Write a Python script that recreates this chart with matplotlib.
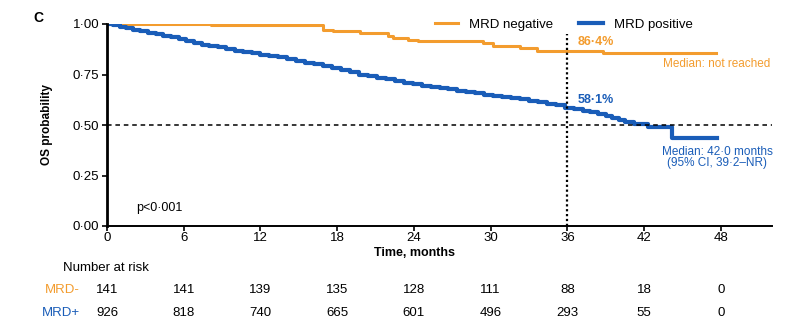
import matplotlib
matplotlib.use("Agg")
import matplotlib.pyplot as plt
from matplotlib import transforms

plt.rcParams['font.family'] = ['Liberation Sans', 'DejaVu Sans']

ORANGE = '#F39C2E'
BLUE = '#1A5DB8'

# Kaplan-Meier steps (time in months, OS probability)
t_neg = [0, 8.1, 14.7, 16.9, 17.7, 19.8, 22.0, 22.4, 23.5, 24.3, 29.4, 30.2, 32.3, 33.6, 38.8, 47.6]
s_neg = [1.0, 0.997, 0.993, 0.972, 0.964, 0.955, 0.94, 0.932, 0.922, 0.914, 0.904, 0.89, 0.88, 0.866, 0.857, 0.857]

t_pos = [0, 0.5, 1.0, 1.5, 2.0, 2.6, 3.2, 3.8, 4.4, 5.0, 5.6, 6.2, 6.8, 7.4, 8.0, 8.7, 9.3, 10.0,
         10.6, 11.3, 12.0, 12.7, 13.4, 14.1, 14.8, 15.5, 16.2, 16.9, 17.6, 18.3, 19.0, 19.7, 20.4,
         21.1, 21.8, 22.5, 23.2, 23.9, 24.6, 25.3, 26.0, 26.7, 27.4, 28.1, 28.8, 29.5, 30.2, 30.9,
         31.6, 32.3, 33.0, 33.7, 34.4, 35.1, 35.8, 36.5, 37.2, 37.8, 38.4, 39.0, 39.5, 40.0, 40.5,
         41.2, 42.3, 44.2, 47.7]
s_pos = [1.0, 0.993, 0.985, 0.978, 0.972, 0.965, 0.955, 0.95, 0.943, 0.935, 0.925, 0.916, 0.908,
         0.897, 0.892, 0.886, 0.874, 0.866, 0.86, 0.855, 0.848, 0.842, 0.835, 0.826, 0.818, 0.807,
         0.8, 0.792, 0.782, 0.772, 0.762, 0.748, 0.742, 0.733, 0.726, 0.72, 0.71, 0.701, 0.695,
         0.69, 0.683, 0.677, 0.67, 0.663, 0.657, 0.65, 0.644, 0.639, 0.633, 0.627, 0.62, 0.612,
         0.605, 0.598, 0.584, 0.578, 0.571, 0.563, 0.556, 0.546, 0.535, 0.524, 0.514, 0.506,
         0.488, 0.437, 0.437]

risk_times = [0, 6, 12, 18, 24, 30, 36, 42, 48]
risk_neg = [141, 141, 139, 135, 128, 111, 88, 18, 0]
risk_pos = [926, 818, 740, 665, 601, 496, 293, 55, 0]

yticks = [0, 0.25, 0.5, 0.75, 1.0]
ytick_labels = ['0·00', '0·25', '0·50', '0·75', '1·00']

fig = plt.figure(figsize=(7.98, 3.25), dpi=100)
ax = fig.add_axes([107 / 798, 1 - 226 / 325, 665 / 798, 202 / 325])

ax.plot(t_neg, s_neg, drawstyle='steps-post', color=ORANGE, lw=2.2, label='MRD negative')
ax.plot(t_pos, s_pos, drawstyle='steps-post', color=BLUE, lw=3.0, label='MRD positive')

ax.axhline(0.5, color='black', lw=1.1, ls=(0, (3, 2.5)))
ax.plot([36, 36], [0, 0.95], color='black', lw=1.6, ls=(0, (1, 1.2)))

ax.set_xlim(0, 52)
ax.set_ylim(0, 1.0)
ax.set_xticks(risk_times)
ax.set_yticks(yticks)
ax.set_yticklabels(ytick_labels)
ax.tick_params(labelsize=9.5, length=3.5, width=1.2)
ax.tick_params(axis='x', pad=1)
ax.tick_params(axis='y', pad=2)
for side in ['top', 'right']:
    ax.spines[side].set_visible(False)
ax.spines['left'].set_linewidth(2.0)
ax.spines['bottom'].set_linewidth(1.4)

ax.legend(loc='center left', bbox_to_anchor=(428 / 798, 1 - 25 / 325), bbox_transform=fig.transFigure,
          ncol=2, frameon=False, fontsize=9.5, handlelength=1.8, columnspacing=2.0,
          borderpad=0, handletextpad=0.8)

ax.text(36.8, 0.912, '86·4%', color=ORANGE, fontsize=9, fontweight='bold', va='center')
ax.text(47.7, 0.802, 'Median: not reached', color=ORANGE, fontsize=8.5, ha='center', va='center')
ax.text(36.8, 0.624, '58·1%', color=BLUE, fontsize=9, fontweight='bold', va='center')
ax.text(47.7, 0.366, 'Median: 42·0 months', color=BLUE, fontsize=8.5, ha='center', va='center')
ax.text(47.7, 0.312, '(95% CI, 39·2–NR)', color=BLUE, fontsize=8.5, ha='center', va='center')
ax.text(2.3, 0.09, 'p<0·001', fontsize=9, va='center')

fig.text(33 / 798, 1 - 18 / 325, 'C', fontsize=10, fontweight='bold', ha='left', va='center')
fig.text(47 / 798, 1 - 125 / 325, 'OS probability', fontsize=8.5, fontweight='bold',
         rotation=90, ha='center', va='center')
fig.text(414 / 798, 1 - 253 / 325, 'Time, months', fontsize=9, fontweight='bold',
         ha='center', va='center')

# number at risk table
tr = transforms.blended_transform_factory(ax.transData, fig.transFigure)
fig.text(63 / 798, 1 - 268 / 325, 'Number at risk', fontsize=9.5, va='center')
fig.text(80 / 798, 1 - 290 / 325, 'MRD-', fontsize=9.5, color=ORANGE, ha='right', va='center')
fig.text(80 / 798, 1 - 313 / 325, 'MRD+', fontsize=9.5, color=BLUE, ha='right', va='center')
for x, a, b in zip(risk_times, risk_neg, risk_pos):
    fig.text(x, 1 - 290 / 325, str(a), fontsize=9.5, ha='center', va='center', transform=tr)
    fig.text(x, 1 - 313 / 325, str(b), fontsize=9.5, ha='center', va='center', transform=tr)

fig.savefig('out.png', dpi=100)
